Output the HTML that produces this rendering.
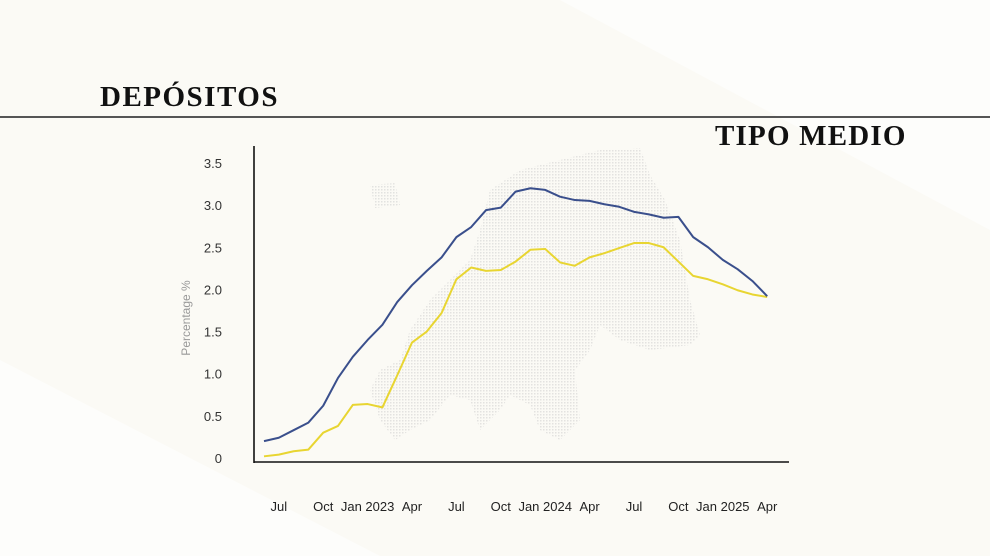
<!DOCTYPE html>
<html><head><meta charset="utf-8">
<style>
html,body{margin:0;padding:0;}
body{width:990px;height:556px;overflow:hidden;background:#fbfaf5;position:relative;font-family:"Liberation Sans",sans-serif;}
.t{position:absolute;font-family:"Liberation Serif",serif;font-weight:bold;color:#111;white-space:nowrap;}
</style></head>
<body>
<svg width="990" height="556" style="position:absolute;left:0;top:0">
<polygon points="560,0 990,0 990,230" fill="#fdfdfb"/>
<polygon points="0,556 380,556 0,360" fill="#fdfdfb"/>
</svg>
<div class="t" style="left:100px;top:81px;font-size:29px;letter-spacing:1.5px">DEPÓSITOS</div>
<div style="position:absolute;left:0;top:116px;width:990px;height:2px;background:#555"></div>
<div class="t" style="left:715px;top:120px;font-size:29px;letter-spacing:1.2px">TIPO MEDIO</div>
<svg id="chart" width="990" height="556" style="position:absolute;left:0;top:0">
<defs><pattern id="dots" width="3" height="3" patternUnits="userSpaceOnUse"><rect width="1.5" height="1.5" fill="#cfcfcf"/></pattern></defs>
<g opacity="0.55">
<polygon fill="url(#dots)" points="490,190 520,170 560,160 600,150 640,148 650,175 665,200 680,240 690,300 700,335 690,345 650,350 620,340 600,325 590,350 575,370 580,420 560,440 540,430 530,405 510,395 500,410 480,430 470,400 450,395 430,420 410,430 395,440 380,420 370,390 380,370 400,360 410,330 430,300 450,280 470,260 480,230"/>
<polygon fill="url(#dots)" points="370,185 395,183 400,205 375,208"/>
</g>
</svg>
<script>
const months = ["Jun22","Jul22","Aug22","Sep22","Oct22","Nov22","Dec22","Jan23","Feb23","Mar23","Apr23","May23","Jun23","Jul23","Aug23","Sep23","Oct23","Nov23","Dec23","Jan24","Feb24","Mar24","Apr24","May24","Jun24","Jul24","Aug24","Sep24","Oct24","Nov24","Dec24","Jan25","Feb25","Mar25","Apr25"];
const blueSeries = [0.20,0.24,0.33,0.42,0.62,0.95,1.20,1.40,1.58,1.85,2.05,2.22,2.38,2.62,2.74,2.94,2.97,3.16,3.20,3.18,3.10,3.06,3.05,3.01,2.98,2.92,2.89,2.85,2.86,2.62,2.50,2.35,2.24,2.10,1.92];
const yellowSeries = [0.02,0.04,0.08,0.10,0.30,0.38,0.63,0.64,0.60,0.98,1.37,1.50,1.72,2.12,2.26,2.22,2.23,2.33,2.47,2.48,2.32,2.28,2.38,2.43,2.49,2.55,2.55,2.50,2.33,2.16,2.12,2.06,1.99,1.94,1.91];
const yTicks = [0,0.5,1.0,1.5,2.0,2.5,3.0,3.5];
const yTickLabels = ["0","0.5","1.0","1.5","2.0","2.5","3.0","3.5"];
const xTickIdx = [1,4,7,10,13,16,19,22,25,28,31,34];
const xTickLabels = ["Jul","Oct","Jan 2023","Apr","Jul","Oct","Jan 2024","Apr","Jul","Oct","Jan 2025","Apr"];

const NS="http://www.w3.org/2000/svg";
const svg=document.getElementById('chart');
const x0=264,dx=14.8;
function xs(i){return x0+i*dx;}
function ys(v){return 458-v*84.3;}
function mk(tag,attrs){const e=document.createElementNS(NS,tag);for(const k in attrs)e.setAttribute(k,attrs[k]);svg.appendChild(e);return e;}

const ya=mk('line',{x1:254,y1:146,x2:254,y2:463,stroke:'#111','stroke-width':1.6});


const xa=mk('line',{x1:254,y1:462,x2:789,y2:462,stroke:'#111','stroke-width':1.6});



yTicks.forEach((v,i)=>{
  const t=mk('text',{x:222,y:ys(v)+5,'text-anchor':'end','font-size':13,fill:'#333','font-family':'Liberation Sans, sans-serif'});
  t.textContent=yTickLabels[i];
  
  
});
xTickIdx.forEach((m,i)=>{
  const t=mk('text',{x:xs(m),y:511,'text-anchor':'middle','font-size':13,fill:'#222','font-family':'Liberation Sans, sans-serif'});
  t.textContent=xTickLabels[i];
  
  
});
const yt=mk('text',{x:0,y:0,transform:'translate(190,318) rotate(-90)','text-anchor':'middle','font-size':12,fill:'#999','font-family':'Liberation Sans, sans-serif'});
yt.textContent='Percentage %';



function line(arr,color,name){
  const p=mk('polyline',{points:arr.map((v,i)=>xs(i)+','+ys(v)).join(' '),fill:'none',stroke:color,'stroke-width':2,'stroke-linejoin':'round'});
  
  
}
line(yellowSeries,'#e8d531','yellow-series-line');
line(blueSeries,'#3a4f8c','blue-series-line');
</script>
</body></html>
